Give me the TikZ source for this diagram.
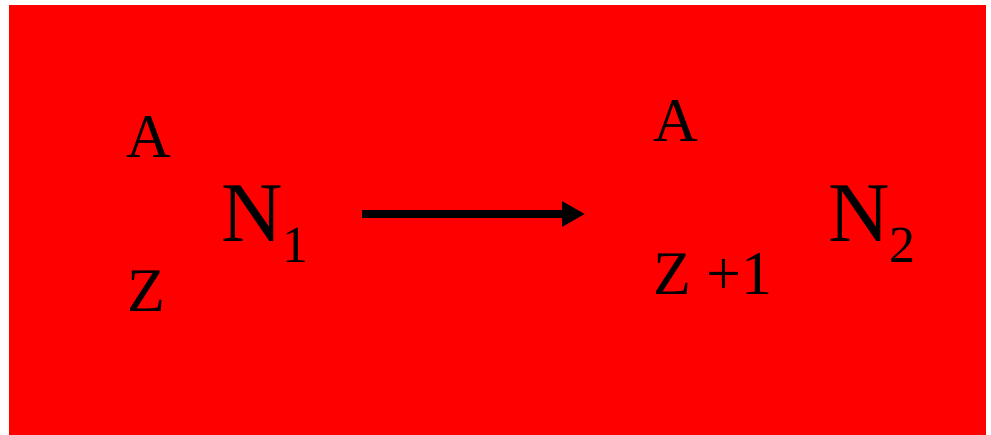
\documentclass[tikz,border=0pt]{standalone}
\usepackage{fontspec}
\setmainfont{Liberation Serif}
\usetikzlibrary{arrows.meta}
\definecolor{bgred}{HTML}{FF0000}
\tikzset{
  lbl/.style={anchor=base west, inner sep=0pt, outer sep=0pt, font=\fontsize{62}{62}\selectfont},
  nuc/.style={anchor=base west, inner sep=0pt, outer sep=0pt, font=\fontsize{85}{85}\selectfont},
  arr/.style={line width=8pt, -{Triangle[length=23pt,width=24pt]}}
}
\newcommand{\mysub}[1]{\raisebox{-21pt}{\fontsize{52}{52}\selectfont #1}}
\begin{document}
\begin{tikzpicture}[x=1pt,y=-1pt]
\useasboundingbox (0,0) rectangle (991,435);
\fill[bgred] (9,5) rectangle (986,435);
\node[lbl] (a1) at (126,158) {A};
\node[lbl] (z1) at (127,312) {Z};
\node[nuc] (n1) at (221.6,242) {N\mysub{1}};
\node[lbl] (a2) at (653.5,142) {A};
\node[lbl] (z2) at (653.5,295) {Z +1};
\node[nuc] (n2) at (828.6,242) {N\mysub{2}};
\coordinate (s) at (362,214);
\coordinate (e) at (585,214);
\draw[arr] (s) -- (e);
\end{tikzpicture}
\end{document}
